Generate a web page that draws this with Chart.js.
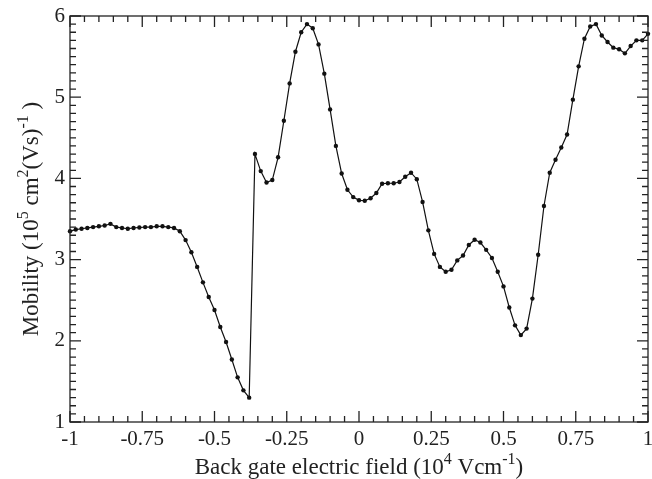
<!DOCTYPE html>
<html>
<head>
<meta charset="utf-8">
<script src="https://cdn.jsdelivr.net/npm/chart.js@4"></script>
<style>
  html, body { margin: 0; padding: 0; background: #fff; }
  canvas { display: block; }
</style>
</head>
<body>
<canvas id="graph" width="652" height="479"></canvas>
<script>
// back gate field (10^4 V/cm)
const field = [
  -1.00, -0.98, -0.96, -0.94, -0.92, -0.90, -0.88, -0.86, -0.84, -0.82,
  -0.80, -0.78, -0.76, -0.74, -0.72, -0.70, -0.68, -0.66, -0.64, -0.62,
  -0.60, -0.58, -0.56, -0.54, -0.52, -0.50, -0.48, -0.46, -0.44, -0.42,
  -0.40, -0.38, -0.36, -0.34, -0.32, -0.30, -0.28, -0.26, -0.24, -0.22,
  -0.20, -0.18, -0.16, -0.14, -0.12, -0.10, -0.08, -0.06, -0.04, -0.02,
   0.00,  0.02,  0.04,  0.06,  0.08,  0.10,  0.12,  0.14,  0.16,  0.18,
   0.20,  0.22,  0.24,  0.26,  0.28,  0.30,  0.32,  0.34,  0.36,  0.38,
   0.40,  0.42,  0.44,  0.46,  0.48,  0.50,  0.52,  0.54,  0.56,  0.58,
   0.60,  0.62,  0.64,  0.66,  0.68,  0.70,  0.72,  0.74,  0.76,  0.78,
   0.80,  0.82,  0.84,  0.86,  0.88,  0.90,  0.92,  0.94,  0.96,  0.98,
   1.00
];

// mobility (10^5 cm^2/Vs)
const mobility = [
  3.35, 3.37, 3.38, 3.39, 3.40, 3.41, 3.42, 3.44, 3.40, 3.39,
  3.38, 3.39, 3.395, 3.40, 3.40, 3.41, 3.41, 3.40, 3.39, 3.35,
  3.24, 3.09, 2.91, 2.72, 2.54, 2.38, 2.17, 1.985, 1.77, 1.55,
  1.39, 1.30, 4.30, 4.09, 3.95, 3.98, 4.26, 4.71, 5.17, 5.56,
  5.80, 5.90, 5.85, 5.65, 5.29, 4.85, 4.40, 4.06, 3.86, 3.77,
  3.73, 3.725, 3.755, 3.82, 3.935, 3.94, 3.94, 3.955, 4.02, 4.07,
  3.99, 3.71, 3.36, 3.07, 2.91, 2.85, 2.875, 2.99, 3.05, 3.18,
  3.245, 3.21, 3.12, 3.02, 2.85, 2.67, 2.41, 2.19, 2.07, 2.15,
  2.52, 3.06, 3.66, 4.07, 4.23, 4.38, 4.54, 4.97, 5.38, 5.72,
  5.87, 5.90, 5.76, 5.68, 5.61, 5.59, 5.54, 5.63, 5.70, 5.70,
  5.78
];

const xTitle = [['Back gate electric field (10'], ['4', 1], [' Vcm'], ['-1', 1], [')']];
const yTitle = [['Mobility (10'], ['5', 1], [' cm'], ['2', 1], ['(Vs)'], ['-1', 1], [' )']];

const serif = '"Liberation Serif", "DejaVu Serif", serif';

function isMajor(v, step) {
  const r = v / step;
  return Math.abs(r - Math.round(r)) < 1e-6;
}
function fmt(v) {
  const r = Math.round(v * 100) / 100;
  return String(r === 0 ? 0 : r);
}

// draws text pieces with raised superscripts
function drawRich(ctx, parts, size) {
  const big = size + 'px ' + serif;
  const small = Math.round(size * 0.68) + 'px ' + serif;
  let total = 0;
  parts.forEach(p => { ctx.font = p[1] ? small : big; total += ctx.measureText(p[0]).width; });
  let x = -total / 2;
  parts.forEach(p => {
    ctx.font = p[1] ? small : big;
    ctx.fillText(p[0], x, p[1] ? -size * 0.42 : 0);
    x += ctx.measureText(p[0]).width;
  });
}

const framePlugin = {
  id: 'frame',
  afterDraw(chart) {
    const { ctx, chartArea: a, scales } = chart;
    ctx.save();
    ctx.strokeStyle = '#222';
    ctx.lineWidth = 1.3;
    ctx.strokeRect(a.left, a.top, a.right - a.left, a.bottom - a.top);
    ctx.beginPath();
    scales.x.ticks.forEach(t => {
      const px = scales.x.getPixelForValue(t.value);
      const len = isMajor(t.value, 0.25) ? 11 : 6;
      ctx.moveTo(px, a.bottom); ctx.lineTo(px, a.bottom - len);
      ctx.moveTo(px, a.top); ctx.lineTo(px, a.top + len);
    });
    scales.y.ticks.forEach(t => {
      const py = scales.y.getPixelForValue(t.value);
      const len = isMajor(t.value, 1) ? 11 : 6;
      ctx.moveTo(a.left, py); ctx.lineTo(a.left + len, py);
      ctx.moveTo(a.right, py); ctx.lineTo(a.right - len, py);
    });
    ctx.stroke();

    ctx.fillStyle = '#222';
    ctx.textBaseline = 'alphabetic';
    ctx.save();
    ctx.translate((a.left + a.right) / 2, 474);
    drawRich(ctx, xTitle, 23);
    ctx.restore();
    ctx.save();
    ctx.translate(38, (a.top + a.bottom) / 2);
    ctx.rotate(-Math.PI / 2);
    drawRich(ctx, yTitle, 23);
    ctx.restore();
    ctx.restore();
  }
};

new Chart(document.querySelector('#graph'), {
  type: 'line',
  data: {
    datasets: [{
      data: field.map((f, i) => ({ x: f, y: mobility[i] })),
      borderColor: '#111',
      backgroundColor: '#111',
      borderWidth: 1.2,
      pointRadius: 2.2,
      pointBorderWidth: 0,
      tension: 0,
      clip: 3
    }]
  },
  options: {
    responsive: false,
    animation: false,
    devicePixelRatio: 1,
    layout: { padding: { top: 16, right: 3, left: 0, bottom: 0 } },
    plugins: { legend: { display: false }, tooltip: { enabled: false } },
    scales: {
      x: {
        type: 'linear',
        min: -1,
        max: 1,
        afterFit(s) { s.height = 57; s.paddingLeft = 0; s.paddingRight = 0; },
        grid: { display: false, drawTicks: false },
        border: { display: false },
        ticks: {
          stepSize: 0.05,
          autoSkip: false,
          maxRotation: 0,
          padding: 5,
          color: '#222',
          font: { family: serif, size: 21 },
          callback: v => isMajor(v, 0.25) ? fmt(v) : ''
        }
      },
      y: {
        type: 'linear',
        min: 1,
        max: 6,
        afterFit(s) { s.width = 70; s.paddingTop = 0; s.paddingBottom = 0; },
        grid: { display: false, drawTicks: false },
        border: { display: false },
        ticks: {
          stepSize: 0.1,
          autoSkip: false,
          padding: 5,
          color: '#222',
          font: { family: serif, size: 21 },
          callback: v => isMajor(v, 1) ? fmt(v) : ''
        }
      }
    }
  },
  plugins: [framePlugin]
});
</script>
</body>
</html>
